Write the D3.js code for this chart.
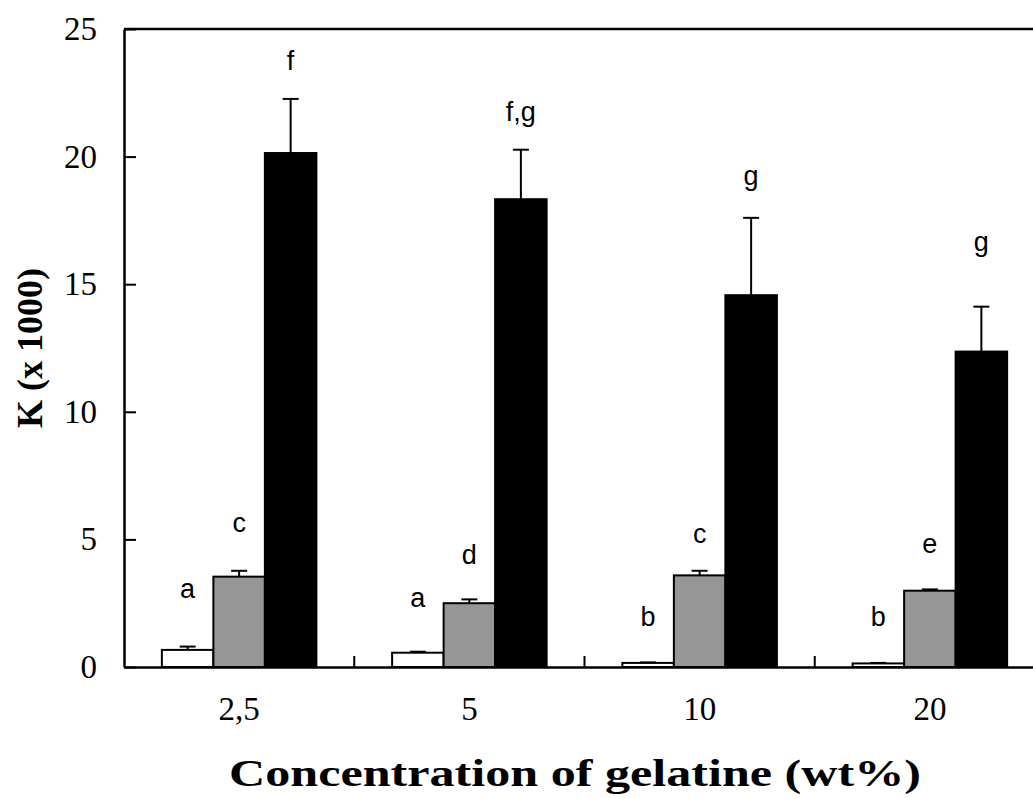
<!DOCTYPE html>
<html>
<head>
<meta charset="utf-8">
<script src="https://cdn.jsdelivr.net/npm/d3@7"></script>
<style>
  body { margin: 0; background: #fff; }
  svg { display: block; }
</style>
</head>
<body>
<svg class="chart"></svg>
<script>
var concentrations = ['2,5', '5', '10', '20'];
var seriesNames = ['white', 'gray', 'black'];
var whiteValues = [0.67, 0.56, 0.16, 0.14];
var whiteErrors = [0.13, 0.04, 0.02, 0.02];
var grayValues = [3.54, 2.50, 3.59, 2.99];
var grayErrors = [0.23, 0.15, 0.18, 0.05];
var blackValues = [20.14, 18.33, 14.57, 12.36];
var blackErrors = [2.12, 1.94, 3.03, 1.76];
var letters = [['a', 'c', 'f'], ['a', 'd', 'f,g'], ['b', 'c', 'g'], ['b', 'e', 'g']];
// height (in K units) where each letter sits
var letterAt = [[2.7, 5.3, 23.4], [2.35, 4.04, 21.4], [1.6, 4.85, 18.9], [1.6, 4.47, 16.3]];
var yTicks = [0, 5, 10, 15, 20, 25];

var width = 1033, height = 798;
var margin = {left: 124, top: 29};
var plotW = 921, plotH = 638;

var svg = d3.select('.chart').attr('width', width).attr('height', height);
var g = svg.append('g').attr('transform', 'translate(' + margin.left + ',' + margin.top + ')');

var x = d3.scaleBand().domain(concentrations).range([0, plotW]).paddingInner(0).paddingOuter(0);
var barSpan = 154.5;
var sub = d3.scaleBand().domain(seriesNames)
    .range([(x.bandwidth() - barSpan) / 2, (x.bandwidth() + barSpan) / 2]);
var y = d3.scaleLinear().domain([0, 25]).range([plotH, 0]);

var fills = {white: '#ffffff', gray: '#969696', black: '#000000'};
var values = {white: whiteValues, gray: grayValues, black: blackValues};
var errors = {white: whiteErrors, gray: grayErrors, black: blackErrors};

var rows = [];
concentrations.forEach(function (c, i) {
    seriesNames.forEach(function (s, j) {
        rows.push({c: c, s: s, v: values[s][i], e: errors[s][i],
                   letter: letters[i][j], la: letterAt[i][j]});
    });
});

function mid(d) { return x(d.c) + sub(d.s) + sub.bandwidth() / 2; }

// error bars (upper only)
var eb = g.selectAll('.err').data(rows).enter().append('g').attr('class', 'err');
eb.append('line')
    .attr('x1', mid).attr('x2', mid)
    .attr('y1', function (d) { return y(d.v); })
    .attr('y2', function (d) { return y(d.v + d.e); })
    .attr('stroke', '#000').attr('stroke-width', 2);
eb.append('line')
    .attr('x1', function (d) { return mid(d) - 8; })
    .attr('x2', function (d) { return mid(d) + 8; })
    .attr('y1', function (d) { return y(d.v + d.e); })
    .attr('y2', function (d) { return y(d.v + d.e); })
    .attr('stroke', '#000').attr('stroke-width', 2);

g.selectAll('.bar').data(rows).enter().append('rect')
    .attr('class', 'bar')
    .attr('x', function (d) { return x(d.c) + sub(d.s); })
    .attr('width', sub.bandwidth())
    .attr('y', function (d) { return y(d.v); })
    .attr('height', function (d) { return plotH - y(d.v); })
    .attr('fill', function (d) { return fills[d.s]; })
    .attr('stroke', '#000').attr('stroke-width', 2);

g.selectAll('.letter').data(rows).enter().append('text')
    .attr('class', 'letter')
    .attr('x', mid)
    .attr('y', function (d) { return y(d.la); })
    .attr('text-anchor', 'middle')
    .style('font-family', '"Liberation Sans", Arial, sans-serif')
    .style('font-size', '27px')
    .text(function (d) { return d.letter; });

// frame
g.append('line').attr('x1', 0).attr('x2', plotW).attr('y1', 0).attr('y2', 0)
    .attr('stroke', '#000').attr('stroke-width', 2.5);
g.append('line').attr('x1', plotW).attr('x2', plotW).attr('y1', 0).attr('y2', plotH)
    .attr('stroke', '#000').attr('stroke-width', 2);

// y axis
var yAxis = g.append('g').call(d3.axisLeft(y).tickValues(yTicks)
    .tickSizeInner(-12).tickSizeOuter(0).tickPadding(27));
yAxis.select('.domain').attr('stroke-width', 2.5);
yAxis.selectAll('.tick line').attr('stroke-width', 2);
yAxis.selectAll('text')
    .style('font-family', '"Liberation Serif", "Times New Roman", serif')
    .style('font-size', '33px').attr('fill', '#000');

// x axis: labels at group centres, ticks at group boundaries
var xAxis = g.append('g').attr('transform', 'translate(0,' + plotH + ')')
    .call(d3.axisBottom(x).tickSize(0).tickPadding(30));
xAxis.select('.domain').attr('stroke-width', 2.5);
xAxis.selectAll('text')
    .style('font-family', '"Liberation Serif", "Times New Roman", serif')
    .style('font-size', '33px').attr('fill', '#000');
g.selectAll('.xtick').data(concentrations.slice(1)).enter().append('line')
    .attr('x1', function (d) { return x(d); })
    .attr('x2', function (d) { return x(d); })
    .attr('y1', plotH).attr('y2', plotH - 11)
    .attr('stroke', '#000').attr('stroke-width', 2);

svg.append('text')
    .attr('x', 575).attr('y', 786)
    .attr('text-anchor', 'middle')
    .attr('textLength', 692).attr('lengthAdjust', 'spacingAndGlyphs')
    .style('font-family', '"Liberation Serif", "Times New Roman", serif')
    .style('font-weight', 'bold').style('font-size', '38px')
    .text('Concentration of gelatine (wt%)');

svg.append('text')
    .attr('transform', 'translate(42,348) rotate(-90)')
    .attr('text-anchor', 'middle')
    .style('font-family', '"Liberation Serif", "Times New Roman", serif')
    .style('font-weight', 'bold').style('font-size', '36px')
    .text('K (x 1000)');
</script>
</body>
</html>
